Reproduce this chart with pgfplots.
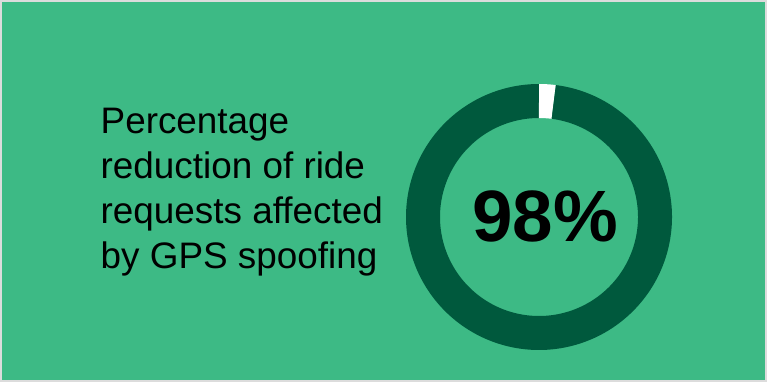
\documentclass[border=0pt]{standalone}
\usepackage{pgfplots}
\pgfplotsset{compat=1.18}
\usepackage{pgfplotstable}
\usepgfplotslibrary{polar}
\usepackage{fontspec}
\setmainfont{Liberation Sans}
\definecolor{bg}{RGB}{61,186,133}
\definecolor{ring}{RGB}{0,89,61}
\definecolor{frame}{RGB}{220,220,220}
% share of ride requests: reduction vs remainder
\pgfplotstableread{
part value
reduced 98
rest 2
}\donutdata
\pgfplotstablegetelem{0}{value}\of\donutdata
\let\valA\pgfplotsretval
\pgfplotstablegetelem{1}{value}\of\donutdata
\let\valB\pgfplotsretval
\begin{document}
\begin{tikzpicture}[x=1bp,y=1bp]
\useasboundingbox (0,0) rectangle (767,382);
\fill[frame] (0,0) rectangle (767,382);
\fill[bg] (2,2) rectangle (765,380);
\pgfmathsetmacro{\angB}{90-\valB*3.6}
\pgfmathsetmacro{\angA}{\angB-\valA*3.6}
\begin{polaraxis}[
  at={(539bp,165bp)}, anchor=center,
  width=266bp, height=266bp, scale only axis,
  xmin=0, xmax=360, ymin=0, ymax=133,
  hide axis, clip=false,
]
\addplot[draw=ring, line width=34bp, domain=\angA:\angB, samples=361, no markers] {116};
\addplot[draw=white, line width=34bp, domain=\angB:90, samples=20, no markers] {116};
\end{polaraxis}
\node[inner sep=0, font=\fontsize{73}{80}\selectfont\bfseries] at (545,165.5) {98\%};
\node[inner sep=0, anchor=base west, align=left, font=\fontsize{37}{45}\selectfont]
  at (100.5,113.7) {Percentage\\reduction of ride\\requests affected\\by GPS spoofing};
\end{tikzpicture}
\end{document}
